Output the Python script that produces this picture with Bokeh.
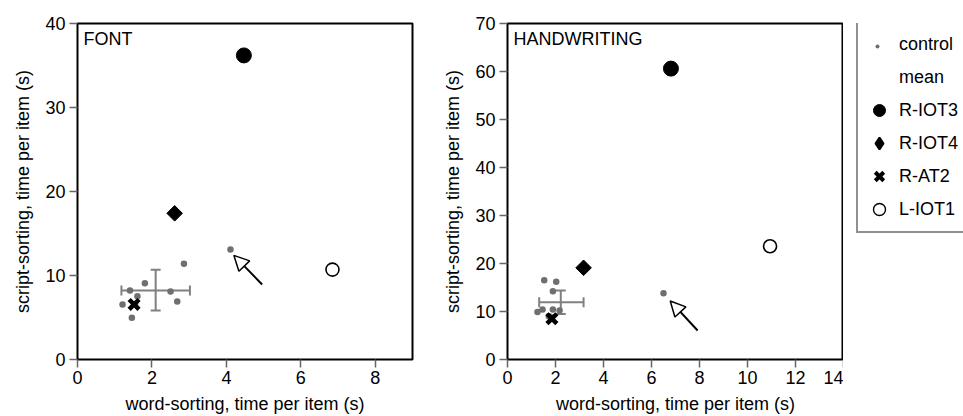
import math
from bokeh.plotting import figure
from bokeh.models import (Range1d, FixedTicker, Label, Whisker, TeeHead, Arrow,
                          NormalHead, Legend, LegendItem, ColumnDataSource)
from bokeh.layouts import row
from bokeh.embed import file_html
from bokeh.resources import INLINE

FONT = "Liberation Sans"
GREY = "#6f6f6f"
BAR_GREY = "#808080"

# ---------------- data ----------------
patient_names = ["R-IOT3", "R-IOT4", "R-AT2", "L-IOT1"]

# FONT panel
font_ctrl_x = [4.11, 2.86, 1.81, 1.41, 2.50, 2.68, 1.21, 1.61, 1.46, 1.55]
font_ctrl_y = [13.1, 11.39, 9.08, 8.21, 8.10, 6.90, 6.55, 7.54, 4.96, 6.6]
font_mean_x = 2.10
font_mean_y = 8.21
font_mean_x_lo, font_mean_x_hi = 1.18, 3.02
font_mean_y_lo, font_mean_y_hi = 5.83, 10.68
font_pat_x = [4.47, 2.61, 1.52, 6.85]
font_pat_y = [36.2, 17.4, 6.55, 10.7]
font_arrow_tail = (4.96, 8.93)
font_arrow_tip = (4.20, 12.4)
font_xticks = [0, 2, 4, 6, 8]
font_yticks = [0, 10, 20, 30, 40]

# HANDWRITING panel
hand_ctrl_x = [6.50, 1.53, 2.03, 1.89, 1.25, 1.46, 1.89, 2.17, 1.72, 1.78]
hand_ctrl_y = [13.8, 16.5, 16.2, 14.2, 9.9, 10.4, 10.4, 10.2, 9.0, 8.9]
hand_mean_x = 2.22
hand_mean_y = 11.95
hand_mean_x_lo, hand_mean_x_hi = 1.32, 3.17
hand_mean_y_lo, hand_mean_y_hi = 9.5, 14.4
hand_pat_x = [6.81, 3.17, 1.85, 10.94]
hand_pat_y = [60.6, 19.1, 8.5, 23.6]
hand_arrow_tail = (7.92, 6.05)
hand_arrow_tip = (6.78, 12.2)
hand_xticks = [0, 2, 4, 6, 8, 10, 12, 14]
hand_yticks = [0, 10, 20, 30, 40, 50, 60, 70]

x_label = "word-sorting, time per item (s)"
y_label = "script-sorting, time per item (s)"

# marker styles for patients (style only)
pat_styles = [
    dict(marker="circle", size=15, fill_color="black", line_color="black", line_width=1),
    dict(marker="square", size=11, angle=math.pi / 4, fill_color="black", line_color="black", line_width=1),
    dict(marker="x", size=14, line_color="black", line_width=4.5),
    dict(marker="circle", size=13, fill_color="white", line_color="black", line_width=1.6),
]
# legend glyph styles (legend markers ignore angle, so use a diamond there)
legend_styles = [
    dict(marker="circle", fill_color="black", line_color="black", line_width=1),
    dict(marker="diamond", fill_color="black", line_color="black", line_width=2),
    dict(marker="x", line_color="black", line_width=4),
    dict(marker="circle", fill_color="white", line_color="black", line_width=1.4),
]


def make_panel(title, xmax, ymax, xticks, yticks, cx, cy, mx, my, mxlo, mxhi,
               mylo, myhi, px, py, tail, tip, width, border_left, border_right):
    p = figure(width=width, height=416, output_backend="svg", toolbar_location=None,
               x_range=Range1d(0, xmax), y_range=Range1d(0, ymax),
               min_border_left=border_left, min_border_right=border_right,
               min_border_top=23, min_border_bottom=57)
    p.grid.visible = False
    p.outline_line_color = "black"
    p.outline_line_width = 2
    p.outline_line_alpha = 1
    p.xaxis.ticker = FixedTicker(ticks=xticks)
    p.yaxis.ticker = FixedTicker(ticks=yticks)
    p.xaxis.axis_label = x_label
    p.yaxis.axis_label = y_label
    for ax in (p.xaxis, p.yaxis):
        ax.axis_line_color = None
        ax.major_tick_out = 8
        ax.major_tick_in = 0
        ax.minor_tick_out = 0
        ax.minor_tick_in = 0
        ax.major_tick_line_color = "#666666"
        ax.major_tick_line_width = 1.5
        ax.major_label_text_font = FONT
        ax.major_label_text_font_size = "18px"
        ax.major_label_text_color = "black"
        ax.axis_label_text_font = FONT
        ax.axis_label_text_font_size = "18px"
        ax.axis_label_text_font_style = "normal"
        ax.axis_label_text_color = "black"
    p.xaxis.major_label_standoff = 3
    p.xaxis.axis_label_standoff = 7
    p.yaxis.major_label_standoff = 4
    p.yaxis.axis_label_standoff = 9

    # mean +/- error bars
    hsrc = ColumnDataSource(dict(base=[my], lower=[mxlo], upper=[mxhi]))
    vsrc = ColumnDataSource(dict(base=[mx], lower=[mylo], upper=[myhi]))
    for src, dim in ((hsrc, "width"), (vsrc, "height")):
        p.add_layout(Whisker(source=src, base="base", lower="lower", upper="upper",
                             dimension=dim, line_color=BAR_GREY, line_width=2,
                             upper_head=TeeHead(size=10, line_color=BAR_GREY, line_width=2),
                             lower_head=TeeHead(size=10, line_color=BAR_GREY, line_width=2)))

    p.scatter(x=cx, y=cy, marker="dot", size=26, line_color=GREY, fill_color=GREY)

    for i, st in enumerate(pat_styles):
        p.scatter(x=[px[i]], y=[py[i]], **st)

    p.add_layout(Arrow(x_start=tail[0], y_start=tail[1], x_end=tip[0], y_end=tip[1],
                       line_color="black", line_width=2,
                       end=NormalHead(size=15, fill_color="white", line_color="black",
                                      line_width=1.5)))

    p.add_layout(Label(x=0, y=ymax, x_offset=6, y_offset=-5, text=title,
                       text_baseline="top", text_font=FONT, text_font_size="18px",
                       text_color="black"))
    return p


p1 = make_panel("FONT", 9, 40, font_xticks, font_yticks, font_ctrl_x, font_ctrl_y,
                font_mean_x, font_mean_y, font_mean_x_lo, font_mean_x_hi,
                font_mean_y_lo, font_mean_y_hi, font_pat_x, font_pat_y,
                font_arrow_tail, font_arrow_tip, 438, 77, 26)

p2 = make_panel("HANDWRITING", 14, 70, hand_xticks, hand_yticks, hand_ctrl_x,
                hand_ctrl_y, hand_mean_x, hand_mean_y, hand_mean_x_lo,
                hand_mean_x_hi, hand_mean_y_lo, hand_mean_y_hi, hand_pat_x,
                hand_pat_y, hand_arrow_tail, hand_arrow_tip, 405, 69, 0)

# ---------------- legend panel ----------------
p3 = figure(width=120, height=416, output_backend="svg", toolbar_location=None,
            x_range=Range1d(0, 1), y_range=Range1d(0, 1),
            x_axis_location=None, y_axis_location=None, min_border=0,
            outline_line_color=None)
p3.grid.visible = False

# legend renderers (hidden in the panel itself; only their legend glyphs show)
lr_ctrl_blank = p3.scatter(x=hand_ctrl_x, y=hand_ctrl_y, marker="dot", alpha=0, visible=False)
lr_ctrl = p3.scatter(x=hand_ctrl_x, y=hand_ctrl_y, marker="dot", line_color=GREY,
                     fill_color=GREY, visible=False)
lr_mean = p3.scatter(x=[hand_mean_x], y=[hand_mean_y], alpha=0, visible=False)
items = [LegendItem(label="control", renderers=[lr_ctrl_blank]),
         LegendItem(label="mean", renderers=[lr_mean])]
for i, name in enumerate(patient_names):
    r = p3.scatter(x=[hand_pat_x[i]], y=[hand_pat_y[i]], visible=False, **legend_styles[i])
    items.append(LegendItem(label=name, renderers=[r]))

# the panel's frame is aligned with the plots' frames (bottom edge at 336 px below top)
legend = Legend(items=items, location=(13, 126), padding=6, spacing=1,
                glyph_width=30, glyph_height=32, label_height=32, label_width=80,
                label_standoff=5,
                label_text_font=FONT, label_text_font_size="18px",
                label_text_color="black", border_line_color="#222222",
                border_line_width=2, background_fill_color="white",
                background_fill_alpha=1, inactive_fill_alpha=0, margin=0)
p3.add_layout(legend)

# overlay legend carrying a larger control dot at the first entry's glyph spot
dot_legend = Legend(items=[LegendItem(label=" ", renderers=[lr_ctrl])],
                    location=(14, 293), padding=0, spacing=0,
                    glyph_width=40, glyph_height=40, label_height=40, label_width=1,
                    label_standoff=0, border_line_color=None,
                    background_fill_alpha=0, inactive_fill_alpha=0, margin=0)
p3.add_layout(dot_legend)

layout = row(p1, p2, p3)
open("out.html", "w").write(file_html(layout, INLINE))
